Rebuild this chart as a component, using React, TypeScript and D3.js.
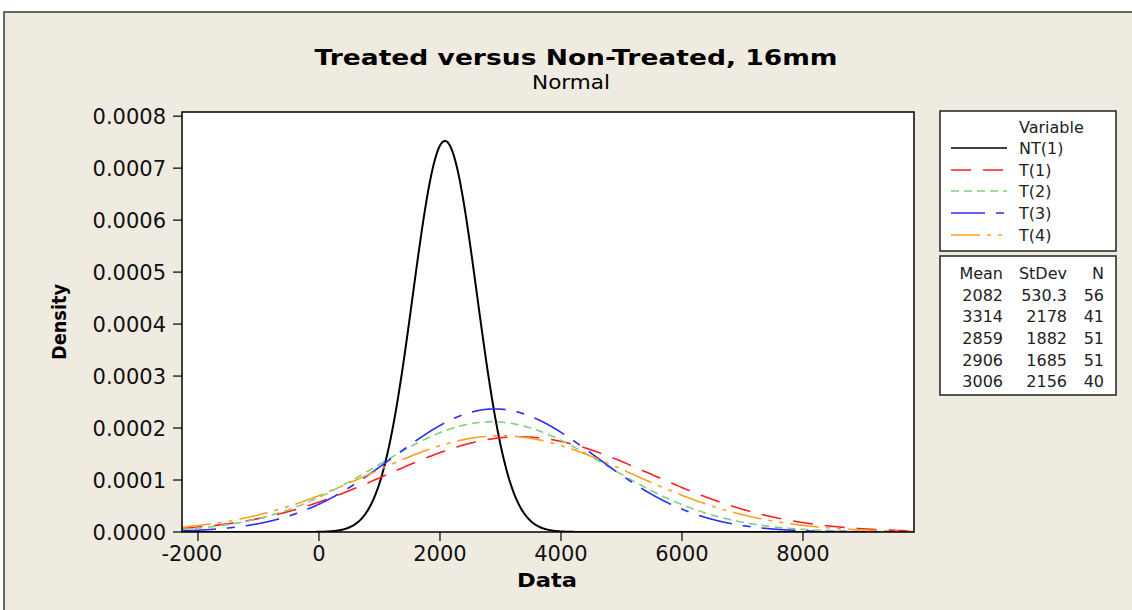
import React from 'react';
import * as d3 from 'd3';

const variables = ['NT(1)', 'T(1)', 'T(2)', 'T(3)', 'T(4)'];
const means = [2082, 3314, 2859, 2906, 3006];
const stdevs = [530.3, 2178, 1882, 1685, 2156];
const counts = [56, 41, 51, 51, 40];
const meanLabels = ['2082', '3314', '2859', '2906', '3006'];
const stdevLabels = ['530.3', '2178', '1882', '1685', '2156'];
const xTicks = [-2000, 0, 2000, 4000, 6000, 8000];
const yTicks = [0, 0.0001, 0.0002, 0.0003, 0.0004, 0.0005, 0.0006, 0.0007, 0.0008];
const xDomain = [-2264, 9835];

const colors = ['#000000', '#ff2020', '#80d080', '#2b2bff', '#ffa020'];
const dashes = ['none', '20 12', '8 5', '34 11 8 11', '29 7 4 7 4 7'];

const W = 1132;
const H = 610;
const margin = { left: 182, top: 112, right: 914, bottom: 532 };
const font = '"DejaVu Sans", Verdana, sans-serif';

// normal density from the fitted mean / stdev in the table
const pdf = (x: number, m: number, s: number) =>
  Math.exp(-0.5 * ((x - m) / s) ** 2) / (s * Math.sqrt(2 * Math.PI));

export default function App() {
  const x = d3.scaleLinear().domain(xDomain).range([margin.left, margin.right]);
  const y = d3.scaleLinear().domain([0, 0.000808]).range([margin.bottom, margin.top]);

  const xs = d3.range(xDomain[0], xDomain[1] + 1, 10);

  const legendX = 940;
  const rowY = [148, 170, 191, 213, 235];
  const tableY = [295, 316, 338, 360, 381];
  const lf = 16;

  return (
    <svg
      width={W}
      height={H}
      style={{ position: 'absolute', left: 0, top: 0, fontFamily: font }}
    >
      <rect x={0} y={0} width={W} height={H} fill="#ffffff" />
      <rect x={4} y={12} width={W + 20} height={H + 20} fill="#f0ebe1" stroke="#3a3a3a" strokeWidth={1.5} />

      {/* titles */}
      <text x={576} y={65} textAnchor="middle" fontSize={22} fontWeight="bold" textLength={523} lengthAdjust="spacingAndGlyphs">
        Treated versus Non-Treated, 16mm
      </text>
      <text x={571} y={89} textAnchor="middle" fontSize={19} textLength={78} lengthAdjust="spacingAndGlyphs">
        Normal
      </text>

      {/* plot area */}
      <defs>
        <clipPath id="plotClip">
          <rect x={margin.left} y={margin.top} width={margin.right - margin.left} height={margin.bottom - margin.top} />
        </clipPath>
      </defs>
      <rect
        x={margin.left}
        y={margin.top}
        width={margin.right - margin.left}
        height={margin.bottom - margin.top}
        fill="#ffffff"
      />

      <g clipPath="url(#plotClip)">
        {variables.map((v, i) => {
          const line = d3
            .line<number>()
            .x((d) => x(d))
            .y((d) => y(pdf(d, means[i], stdevs[i])));
          return (
            <path
              key={v}
              d={line(xs) as string}
              fill="none"
              stroke={colors[i]}
              strokeWidth={i === 0 ? 2 : 1.6}
              strokeDasharray={dashes[i]}
            />
          );
        })}
      </g>

      <rect
        x={margin.left}
        y={margin.top}
        width={margin.right - margin.left}
        height={margin.bottom - margin.top}
        fill="none"
        stroke="#000"
        strokeWidth={1.5}
      />

      {/* y axis */}
      {yTicks.map((t) => (
        <g key={t}>
          <line x1={margin.left - 9} x2={margin.left} y1={y(t)} y2={y(t)} stroke="#000" strokeWidth={1.2} />
          <text x={margin.left - 16} y={y(t)} dy="0.36em" textAnchor="end" fontSize={21} fill="#111">
            {t.toFixed(4)}
          </text>
        </g>
      ))}
      <text
        transform={`translate(66,${(margin.top + margin.bottom) / 2}) rotate(-90)`}
        textAnchor="middle"
        fontSize={19}
        fontWeight="bold"
        textLength={76}
        lengthAdjust="spacingAndGlyphs"
      >
        Density
      </text>

      {/* x axis */}
      {xTicks.map((t) => (
        <g key={t}>
          <line x1={x(t)} x2={x(t)} y1={margin.bottom} y2={margin.bottom + 9} stroke="#000" strokeWidth={1.2} />
          <text x={x(t) - (t < 0 ? 6 : 0)} y={margin.bottom + 29} textAnchor="middle" fontSize={21} fill="#111">
            {t < 0 ? '-' + Math.abs(t) : t}
          </text>
        </g>
      ))}
      <text x={547} y={587} textAnchor="middle" fontSize={20} fontWeight="bold" textLength={60} lengthAdjust="spacingAndGlyphs">
        Data
      </text>

      {/* legend */}
      <rect x={legendX} y={111} width={176} height={140} fill="#ffffff" stroke="#222" strokeWidth={1.5} />
      <text x={1019} y={127} dy="0.36em" fontSize={lf} fill="#222">
        Variable
      </text>
      {variables.map((v, i) => (
        <g key={v}>
          <line
            x1={951}
            x2={1007}
            y1={rowY[i]}
            y2={rowY[i]}
            stroke={colors[i]}
            strokeWidth={1.6}
            strokeDasharray={dashes[i]}
          />
          <text x={1019} y={rowY[i]} dy="0.36em" fontSize={lf} fill="#222">
            {v}
          </text>
        </g>
      ))}

      <rect x={legendX} y={256} width={176} height={139} fill="#ffffff" stroke="#222" strokeWidth={1.5} />
      <text x={1003} y={273} dy="0.36em" textAnchor="end" fontSize={lf} fill="#222">Mean</text>
      <text x={1067} y={273} dy="0.36em" textAnchor="end" fontSize={lf} fill="#222">StDev</text>
      <text x={1104} y={273} dy="0.36em" textAnchor="end" fontSize={lf} fill="#222">N</text>
      {variables.map((v, i) => (
        <g key={v}>
          <text x={1003} y={tableY[i]} dy="0.36em" textAnchor="end" fontSize={lf} fill="#222">
            {meanLabels[i]}
          </text>
          <text x={1067} y={tableY[i]} dy="0.36em" textAnchor="end" fontSize={lf} fill="#222">
            {stdevLabels[i]}
          </text>
          <text x={1104} y={tableY[i]} dy="0.36em" textAnchor="end" fontSize={lf} fill="#222">
            {counts[i]}
          </text>
        </g>
      ))}
    </svg>
  );
}
